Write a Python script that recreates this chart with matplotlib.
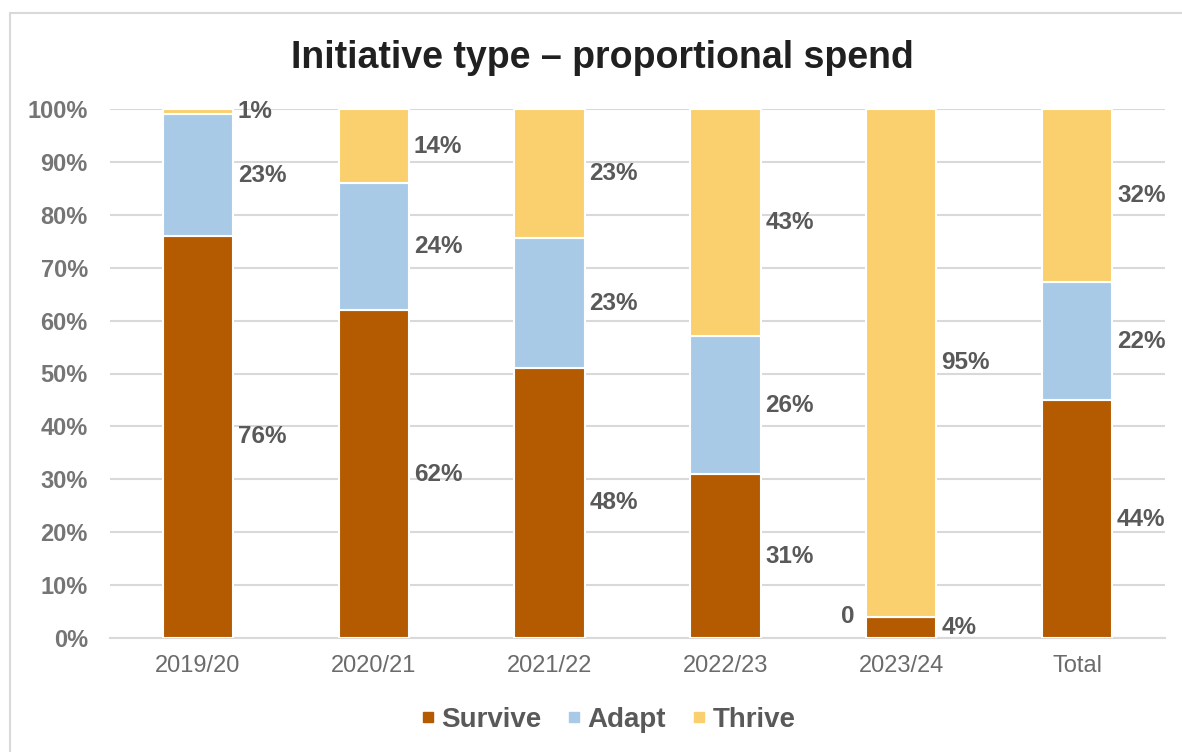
import matplotlib
matplotlib.use("Agg")
import matplotlib.pyplot as plt
from matplotlib.lines import Line2D
from matplotlib.patches import Rectangle
import numpy as np

# Spend by initiative type, per year (percent of that year's spend)
periods = ["2019/20", "2020/21", "2021/22", "2022/23", "2023/24", "Total"]
survive = [76, 62, 48, 31, 4, 44]
adapt = [23, 24, 23, 26, 0, 22]
thrive = [1, 14, 23, 43, 95, 32]
series_names = ["Survive", "Adapt", "Thrive"]
series_colors = ["#B45A00", "#A9CAE6", "#FAD06E"]
y_ticks = [0, 10, 20, 30, 40, 50, 60, 70, 80, 90, 100]

plt.rcParams["font.family"] = ["Liberation Sans", "DejaVu Sans"]

W, H = 1182, 752
fig = plt.figure(figsize=(W / 100, H / 100), dpi=100)
fig.patch.set_facecolor("white")

# chart-area frame
fig.add_artist(Rectangle((10 / W, -0.05), 1.2, 1 - 13 / H + 0.05,
                         transform=fig.transFigure, fill=False,
                         edgecolor="#d9d9d9", linewidth=1.5))

ax = fig.add_axes([110 / W, 1 - 638 / H, 1055 / W, 529 / H])

x = np.arange(len(periods))
raw = np.array([survive, adapt, thrive], dtype=float)
shares = raw / raw.sum(axis=0) * 100  # 100% stacked
bar_w = 0.4
bottom = np.zeros(len(periods))

for i, name in enumerate(series_names):
    ax.bar(x, shares[i], bottom=bottom, width=bar_w, color=series_colors[i],
           edgecolor="white", linewidth=1.5, zorder=3, label=name)
    for j in range(len(periods)):
        v = raw[i, j]
        yc = bottom[j] + shares[i, j] / 2
        if v == 0:
            ax.annotate("0", xy=(x[j] - bar_w / 2, yc), xytext=(-8, 0),
                        textcoords="offset points", ha="right", va="center",
                        fontsize=17.5, fontweight="bold", color="#595959")
        else:
            ax.annotate(f"{int(v)}%", xy=(x[j] + bar_w / 2, yc), xytext=(3.5, 0),
                        textcoords="offset points", ha="left", va="center",
                        fontsize=17.5, fontweight="bold", color="#595959")
    bottom += shares[i]

ax.set_xlim(-0.5, len(periods) - 0.5)
ax.set_ylim(0, 100)
ax.set_yticks(y_ticks)
ax.set_yticklabels([f"{t}%" for t in y_ticks])
ax.set_xticks(x)
ax.set_xticklabels(periods)
ax.tick_params(axis="y", length=0, pad=16, labelsize=17, labelcolor="#757575")
for lbl in ax.get_yticklabels():
    lbl.set_fontweight("bold")
ax.tick_params(axis="x", length=0, pad=12, labelsize=17, labelcolor="#6b6b6b")

ax.grid(axis="y", color="#d9d9d9", linewidth=1.5, zorder=0)
ax.set_axisbelow(True)
for side in ["top", "right", "left"]:
    ax.spines[side].set_visible(False)
ax.spines["bottom"].set_color("#d9d9d9")
ax.spines["bottom"].set_linewidth(1.5)

fig.text(602 / W, 1 - 68 / H, "Initiative type \u2013 proportional spend",
         ha="center", va="baseline", fontsize=27, fontweight="bold",
         color="#202020")

handles = [Line2D([], [], linestyle="none", marker="s", markersize=7.5,
                  markerfacecolor=c, markeredgecolor=c) for c in series_colors]
leg = fig.legend(handles, series_names, loc="center",
                 bbox_to_anchor=(608 / W, 1 - 720 / H), ncol=3, frameon=False,
                 handlelength=0.5, handletextpad=0.22, columnspacing=0.95,
                 prop={"size": 20, "weight": "bold"})
for t in leg.get_texts():
    t.set_color("#595959")

fig.savefig("out.png", dpi=100, facecolor="white")
